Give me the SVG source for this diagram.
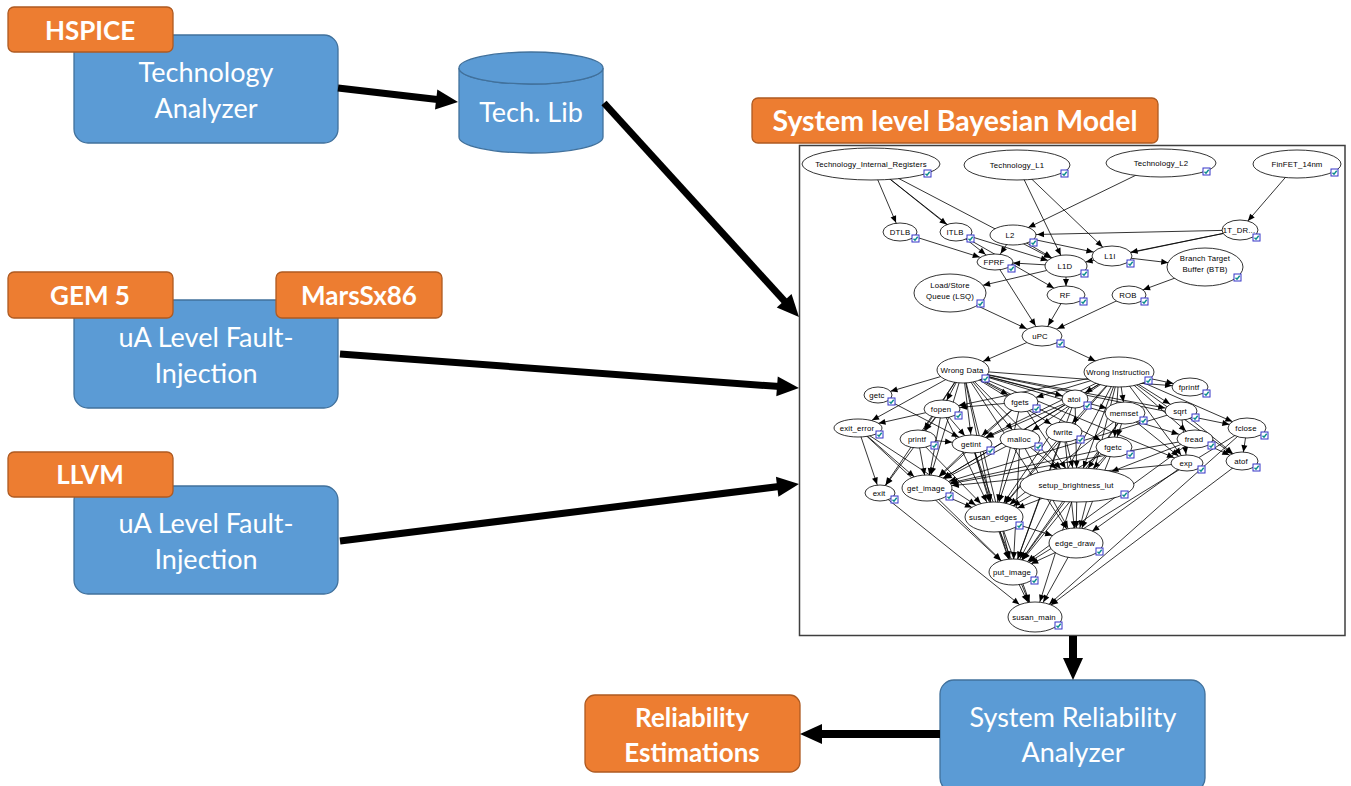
<svg xmlns="http://www.w3.org/2000/svg" xmlns:xlink="http://www.w3.org/1999/xlink" width="1351" height="786" viewBox="0 0 1351 786">
<style>
.blue{fill:#5B9BD5;stroke:#41719C;stroke-width:1.3}
.org{fill:#ED7D31;stroke:#AE5A21;stroke-width:1.3}
.t{font-family:Lato,"Open Sans",sans-serif;font-size:27px;fill:#fff;text-anchor:middle}
.tb{font-family:Lato,"Open Sans",sans-serif;font-weight:700;font-size:26px;fill:#fff;text-anchor:middle}
.big{stroke:#000;stroke-width:7;fill:none}
.e line{stroke:#000;stroke-width:0.8;fill:none}
.n ellipse{fill:#fff;stroke:#000;stroke-width:0.8}
.n text{font-family:"Liberation Sans",Arial,sans-serif;font-size:7.8px;text-anchor:middle;fill:#000;letter-spacing:0.15px}
</style>
<defs>
<marker id="bigA" markerUnits="userSpaceOnUse" markerWidth="24" markerHeight="22" refX="10" refY="10" orient="auto" overflow="visible"><path d="M0,0 L22,10 L0,20 z" fill="#000"/></marker>
<marker id="a9" markerUnits="userSpaceOnUse" markerWidth="8" markerHeight="6" refX="16" refY="3" orient="auto" overflow="visible"><path d="M0,0 L7,3 L0,6 z"/></marker>
<marker id="a10" markerUnits="userSpaceOnUse" markerWidth="8" markerHeight="6" refX="17" refY="3" orient="auto" overflow="visible"><path d="M0,0 L7,3 L0,6 z"/></marker>
<marker id="a11" markerUnits="userSpaceOnUse" markerWidth="8" markerHeight="6" refX="18" refY="3" orient="auto" overflow="visible"><path d="M0,0 L7,3 L0,6 z"/></marker>
<marker id="a12" markerUnits="userSpaceOnUse" markerWidth="8" markerHeight="6" refX="19" refY="3" orient="auto" overflow="visible"><path d="M0,0 L7,3 L0,6 z"/></marker>
<marker id="a13" markerUnits="userSpaceOnUse" markerWidth="8" markerHeight="6" refX="20" refY="3" orient="auto" overflow="visible"><path d="M0,0 L7,3 L0,6 z"/></marker>
<marker id="a14" markerUnits="userSpaceOnUse" markerWidth="8" markerHeight="6" refX="21" refY="3" orient="auto" overflow="visible"><path d="M0,0 L7,3 L0,6 z"/></marker>
<marker id="a15" markerUnits="userSpaceOnUse" markerWidth="8" markerHeight="6" refX="22" refY="3" orient="auto" overflow="visible"><path d="M0,0 L7,3 L0,6 z"/></marker>
<marker id="a16" markerUnits="userSpaceOnUse" markerWidth="8" markerHeight="6" refX="23" refY="3" orient="auto" overflow="visible"><path d="M0,0 L7,3 L0,6 z"/></marker>
<marker id="a17" markerUnits="userSpaceOnUse" markerWidth="8" markerHeight="6" refX="24" refY="3" orient="auto" overflow="visible"><path d="M0,0 L7,3 L0,6 z"/></marker>
<marker id="a18" markerUnits="userSpaceOnUse" markerWidth="8" markerHeight="6" refX="25" refY="3" orient="auto" overflow="visible"><path d="M0,0 L7,3 L0,6 z"/></marker>
<marker id="a19" markerUnits="userSpaceOnUse" markerWidth="8" markerHeight="6" refX="26" refY="3" orient="auto" overflow="visible"><path d="M0,0 L7,3 L0,6 z"/></marker>
<marker id="a20" markerUnits="userSpaceOnUse" markerWidth="8" markerHeight="6" refX="27" refY="3" orient="auto" overflow="visible"><path d="M0,0 L7,3 L0,6 z"/></marker>
<marker id="a21" markerUnits="userSpaceOnUse" markerWidth="8" markerHeight="6" refX="28" refY="3" orient="auto" overflow="visible"><path d="M0,0 L7,3 L0,6 z"/></marker>
<marker id="a22" markerUnits="userSpaceOnUse" markerWidth="8" markerHeight="6" refX="29" refY="3" orient="auto" overflow="visible"><path d="M0,0 L7,3 L0,6 z"/></marker>
<marker id="a23" markerUnits="userSpaceOnUse" markerWidth="8" markerHeight="6" refX="30" refY="3" orient="auto" overflow="visible"><path d="M0,0 L7,3 L0,6 z"/></marker>
<marker id="a24" markerUnits="userSpaceOnUse" markerWidth="8" markerHeight="6" refX="31" refY="3" orient="auto" overflow="visible"><path d="M0,0 L7,3 L0,6 z"/></marker>
<marker id="a25" markerUnits="userSpaceOnUse" markerWidth="8" markerHeight="6" refX="32" refY="3" orient="auto" overflow="visible"><path d="M0,0 L7,3 L0,6 z"/></marker>
<marker id="a26" markerUnits="userSpaceOnUse" markerWidth="8" markerHeight="6" refX="33" refY="3" orient="auto" overflow="visible"><path d="M0,0 L7,3 L0,6 z"/></marker>
<marker id="a34" markerUnits="userSpaceOnUse" markerWidth="8" markerHeight="6" refX="41" refY="3" orient="auto" overflow="visible"><path d="M0,0 L7,3 L0,6 z"/></marker>
<marker id="a37" markerUnits="userSpaceOnUse" markerWidth="8" markerHeight="6" refX="44" refY="3" orient="auto" overflow="visible"><path d="M0,0 L7,3 L0,6 z"/></marker>
<g id="cb"><rect x="0" y="0" width="7" height="7" fill="#fff" stroke="#3535c8" stroke-width="1"/><polyline points="1.5,3.8 3,5.3 5.7,1.8" fill="none" stroke="#0a8c8c" stroke-width="1.4"/></g>
</defs>

<g id="technology-analyzer">
<rect class="blue" x="74" y="35" width="264" height="108" rx="14"/>
<text class="t" x="206" y="82">Technology</text>
<text class="t" x="206" y="118">Analyzer</text>
</g>
<g id="hspice"><rect class="org" x="8" y="7" width="165" height="45" rx="6"/><text class="tb" x="90" y="39.5">HSPICE</text></g>

<g id="fault-injection-1">
<rect class="blue" x="74" y="300" width="264" height="108" rx="14"/>
<text class="t" x="206" y="347">uA Level Fault-</text>
<text class="t" x="206" y="383">Injection</text>
</g>
<g id="gem5"><rect class="org" x="8" y="272" width="165" height="46" rx="6"/><text class="tb" x="90" y="304.5">GEM 5</text></g>
<g id="marssx86"><rect class="org" x="276" y="272" width="166" height="46" rx="6"/><text class="tb" x="359" y="304.5">MarsSx86</text></g>

<g id="fault-injection-2">
<rect class="blue" x="74" y="486" width="264" height="108" rx="14"/>
<text class="t" x="206" y="533">uA Level Fault-</text>
<text class="t" x="206" y="569">Injection</text>
</g>
<g id="llvm"><rect class="org" x="8" y="452" width="165" height="45" rx="6"/><text class="tb" x="90" y="484">LLVM</text></g>

<g id="tech-lib">
<path class="blue" d="M459,68 V137 A72,16 0 0 0 603,137 V68 A72,16 0 0 1 459,68 Z"/>
<ellipse class="blue" cx="531" cy="68" rx="72" ry="16"/>
<text class="t" x="531" y="122">Tech. Lib</text>
</g>

<g id="bayesian-title"><rect class="org" x="752" y="98" width="406" height="45" rx="6"/><text class="tb" x="955" y="130.5" style="font-size:28px" textLength="365" lengthAdjust="spacingAndGlyphs">System level Bayesian Model</text></g>

<g id="bayesian-model">
<rect x="799.5" y="145.5" width="545.5" height="490" fill="#fff" stroke="#3f3f3f" stroke-width="1.5"/>
</g>

<g id="system-reliability-analyzer">
<rect class="blue" x="940" y="680" width="265" height="112" rx="14"/>
<text class="t" x="1073" y="727">System Reliability</text>
<text class="t" x="1073" y="762">Analyzer</text>
</g>
<g id="reliability-estimations"><rect class="org" x="585" y="695" width="215" height="77" rx="10"/>
<text class="tb" x="692" y="726.5">Reliability</text><text class="tb" x="692" y="761.5">Estimations</text></g>

<g id="connectors">
<line class="big" x1="338" y1="88" x2="446.1" y2="100.6" marker-end="url(#bigA)"/>
<line class="big" x1="604" y1="103" x2="790.9" y2="308.1" marker-end="url(#bigA)"/>
<line class="big" x1="340" y1="354" x2="787" y2="387.1" marker-end="url(#bigA)"/>
<line class="big" x1="340" y1="541" x2="787.1" y2="485.5" marker-end="url(#bigA)"/>
<line class="big" x1="1073" y1="636" x2="1073" y2="668" marker-end="url(#bigA)" style="stroke-width:8"/>
<line class="big" x1="940" y1="734" x2="812" y2="734" marker-end="url(#bigA)" style="stroke-width:8"/>
</g>

<g id="bn-edges" class="e">
<line x1="871" y1="164" x2="900" y2="232" marker-end="url(#a10)"/>
<line x1="871" y1="164" x2="956" y2="232" marker-end="url(#a12)"/>
<line x1="871" y1="164" x2="995" y2="262" marker-end="url(#a12)"/>
<line x1="871" y1="164" x2="1066" y2="266" marker-end="url(#a17)"/>
<line x1="1017" y1="165" x2="1112" y2="256" marker-end="url(#a13)"/>
<line x1="1017" y1="165" x2="1066" y2="266" marker-end="url(#a12)"/>
<line x1="1161" y1="163" x2="1013" y2="235" marker-end="url(#a17)"/>
<line x1="1297" y1="164" x2="1240" y2="230" marker-end="url(#a12)"/>
<line x1="1240" y1="230" x2="1013" y2="235" marker-end="url(#a24)"/>
<line x1="1240" y1="230" x2="1112" y2="256" marker-end="url(#a19)"/>
<line x1="1240" y1="230" x2="1066" y2="266" marker-end="url(#a20)"/>
<line x1="900" y1="232" x2="995" y2="262" marker-end="url(#a16)"/>
<line x1="956" y1="232" x2="1066" y2="266" marker-end="url(#a19)"/>
<line x1="956" y1="232" x2="1066" y2="295" marker-end="url(#a14)"/>
<line x1="1013" y1="235" x2="1112" y2="256" marker-end="url(#a19)"/>
<line x1="1013" y1="235" x2="1066" y2="266" marker-end="url(#a17)"/>
<line x1="1013" y1="235" x2="995" y2="262" marker-end="url(#a10)"/>
<line x1="1112" y1="256" x2="1205" y2="267" marker-end="url(#a37)"/>
<line x1="1066" y1="266" x2="995" y2="262" marker-end="url(#a18)"/>
<line x1="1066" y1="266" x2="950" y2="293" marker-end="url(#a34)"/>
<line x1="1066" y1="266" x2="1066" y2="295" marker-end="url(#a9)"/>
<line x1="995" y1="262" x2="1042" y2="336" marker-end="url(#a12)"/>
<line x1="950" y1="293" x2="1042" y2="336" marker-end="url(#a17)"/>
<line x1="1066" y1="295" x2="1042" y2="336" marker-end="url(#a12)"/>
<line x1="1129" y1="295" x2="1042" y2="336" marker-end="url(#a17)"/>
<line x1="1205" y1="267" x2="1129" y2="295" marker-end="url(#a15)"/>
<line x1="1042" y1="336" x2="963" y2="370" marker-end="url(#a22)"/>
<line x1="1042" y1="336" x2="1119" y2="372" marker-end="url(#a26)"/>
<line x1="963" y1="370" x2="878" y2="395" marker-end="url(#a13)"/>
<line x1="963" y1="370" x2="858" y2="428" marker-end="url(#a16)"/>
<line x1="963" y1="370" x2="942" y2="409" marker-end="url(#a10)"/>
<line x1="963" y1="370" x2="918" y2="439" marker-end="url(#a11)"/>
<line x1="963" y1="370" x2="972" y2="444" marker-end="url(#a10)"/>
<line x1="963" y1="370" x2="1021" y2="402" marker-end="url(#a15)"/>
<line x1="963" y1="370" x2="1020" y2="439" marker-end="url(#a12)"/>
<line x1="963" y1="370" x2="1075" y2="399" marker-end="url(#a13)"/>
<line x1="963" y1="370" x2="1064" y2="432" marker-end="url(#a15)"/>
<line x1="963" y1="370" x2="1125" y2="413" marker-end="url(#a19)"/>
<line x1="963" y1="370" x2="1114" y2="447" marker-end="url(#a15)"/>
<line x1="963" y1="370" x2="1181" y2="411" marker-end="url(#a16)"/>
<line x1="963" y1="370" x2="1195" y2="439" marker-end="url(#a17)"/>
<line x1="963" y1="370" x2="1247" y2="428" marker-end="url(#a18)"/>
<line x1="963" y1="370" x2="1190" y2="387" marker-end="url(#a18)"/>
<line x1="963" y1="370" x2="927" y2="488" marker-end="url(#a14)"/>
<line x1="963" y1="370" x2="994" y2="517" marker-end="url(#a16)"/>
<line x1="963" y1="370" x2="1077" y2="485" marker-end="url(#a23)"/>
<line x1="963" y1="370" x2="1013" y2="572" marker-end="url(#a14)"/>
<line x1="963" y1="370" x2="1076" y2="543" marker-end="url(#a17)"/>
<line x1="963" y1="370" x2="880" y2="493" marker-end="url(#a10)"/>
<line x1="963" y1="370" x2="1187" y2="463" marker-end="url(#a14)"/>
<line x1="1119" y1="372" x2="1190" y2="387" marker-end="url(#a17)"/>
<line x1="1119" y1="372" x2="1181" y2="411" marker-end="url(#a13)"/>
<line x1="1119" y1="372" x2="1247" y2="428" marker-end="url(#a16)"/>
<line x1="1119" y1="372" x2="1195" y2="439" marker-end="url(#a12)"/>
<line x1="1119" y1="372" x2="1125" y2="413" marker-end="url(#a11)"/>
<line x1="1119" y1="372" x2="1075" y2="399" marker-end="url(#a12)"/>
<line x1="1119" y1="372" x2="1114" y2="447" marker-end="url(#a10)"/>
<line x1="1119" y1="372" x2="1021" y2="402" marker-end="url(#a16)"/>
<line x1="1119" y1="372" x2="1064" y2="432" marker-end="url(#a12)"/>
<line x1="1119" y1="372" x2="1020" y2="439" marker-end="url(#a15)"/>
<line x1="1119" y1="372" x2="972" y2="444" marker-end="url(#a15)"/>
<line x1="1119" y1="372" x2="942" y2="409" marker-end="url(#a17)"/>
<line x1="1119" y1="372" x2="1187" y2="463" marker-end="url(#a10)"/>
<line x1="1119" y1="372" x2="1242" y2="461" marker-end="url(#a12)"/>
<line x1="1119" y1="372" x2="1077" y2="485" marker-end="url(#a18)"/>
<line x1="1119" y1="372" x2="994" y2="517" marker-end="url(#a18)"/>
<line x1="1119" y1="372" x2="1076" y2="543" marker-end="url(#a16)"/>
<line x1="1119" y1="372" x2="1013" y2="572" marker-end="url(#a15)"/>
<line x1="1119" y1="372" x2="927" y2="488" marker-end="url(#a19)"/>
<line x1="878" y1="395" x2="972" y2="444" marker-end="url(#a15)"/>
<line x1="942" y1="409" x2="858" y2="428" marker-end="url(#a21)"/>
<line x1="942" y1="409" x2="918" y2="439" marker-end="url(#a11)"/>
<line x1="942" y1="409" x2="972" y2="444" marker-end="url(#a11)"/>
<line x1="942" y1="409" x2="927" y2="488" marker-end="url(#a13)"/>
<line x1="942" y1="409" x2="994" y2="517" marker-end="url(#a17)"/>
<line x1="942" y1="409" x2="880" y2="493" marker-end="url(#a10)"/>
<line x1="858" y1="428" x2="880" y2="493" marker-end="url(#a9)"/>
<line x1="858" y1="428" x2="927" y2="488" marker-end="url(#a17)"/>
<line x1="858" y1="428" x2="1013" y2="572" marker-end="url(#a17)"/>
<line x1="858" y1="428" x2="994" y2="517" marker-end="url(#a22)"/>
<line x1="918" y1="439" x2="927" y2="488" marker-end="url(#a13)"/>
<line x1="918" y1="439" x2="972" y2="444" marker-end="url(#a20)"/>
<line x1="918" y1="439" x2="994" y2="517" marker-end="url(#a19)"/>
<line x1="972" y1="444" x2="927" y2="488" marker-end="url(#a17)"/>
<line x1="972" y1="444" x2="994" y2="517" marker-end="url(#a16)"/>
<line x1="972" y1="444" x2="1013" y2="572" marker-end="url(#a14)"/>
<line x1="972" y1="444" x2="1035" y2="617" marker-end="url(#a16)"/>
<line x1="1020" y1="439" x2="927" y2="488" marker-end="url(#a20)"/>
<line x1="1020" y1="439" x2="994" y2="517" marker-end="url(#a16)"/>
<line x1="1020" y1="439" x2="1077" y2="485" marker-end="url(#a26)"/>
<line x1="1020" y1="439" x2="1013" y2="572" marker-end="url(#a13)"/>
<line x1="1020" y1="439" x2="1076" y2="543" marker-end="url(#a17)"/>
<line x1="1021" y1="402" x2="972" y2="444" marker-end="url(#a13)"/>
<line x1="1021" y1="402" x2="942" y2="409" marker-end="url(#a18)"/>
<line x1="1021" y1="402" x2="927" y2="488" marker-end="url(#a17)"/>
<line x1="1021" y1="402" x2="994" y2="517" marker-end="url(#a16)"/>
<line x1="1021" y1="402" x2="1077" y2="485" marker-end="url(#a20)"/>
<line x1="1075" y1="399" x2="972" y2="444" marker-end="url(#a16)"/>
<line x1="1075" y1="399" x2="994" y2="517" marker-end="url(#a17)"/>
<line x1="1075" y1="399" x2="927" y2="488" marker-end="url(#a19)"/>
<line x1="1075" y1="399" x2="1077" y2="485" marker-end="url(#a17)"/>
<line x1="1075" y1="399" x2="1013" y2="572" marker-end="url(#a14)"/>
<line x1="1064" y1="432" x2="994" y2="517" marker-end="url(#a18)"/>
<line x1="1064" y1="432" x2="1077" y2="485" marker-end="url(#a18)"/>
<line x1="1064" y1="432" x2="1076" y2="543" marker-end="url(#a15)"/>
<line x1="1064" y1="432" x2="1013" y2="572" marker-end="url(#a14)"/>
<line x1="1125" y1="413" x2="1114" y2="447" marker-end="url(#a11)"/>
<line x1="1125" y1="413" x2="1077" y2="485" marker-end="url(#a20)"/>
<line x1="1125" y1="413" x2="1187" y2="463" marker-end="url(#a11)"/>
<line x1="1125" y1="413" x2="994" y2="517" marker-end="url(#a20)"/>
<line x1="1125" y1="413" x2="1013" y2="572" marker-end="url(#a15)"/>
<line x1="1114" y1="447" x2="927" y2="488" marker-end="url(#a24)"/>
<line x1="1114" y1="447" x2="994" y2="517" marker-end="url(#a22)"/>
<line x1="1114" y1="447" x2="1077" y2="485" marker-end="url(#a23)"/>
<line x1="1114" y1="447" x2="1076" y2="543" marker-end="url(#a16)"/>
<line x1="1114" y1="447" x2="1013" y2="572" marker-end="url(#a16)"/>
<line x1="1181" y1="411" x2="1187" y2="463" marker-end="url(#a9)"/>
<line x1="1181" y1="411" x2="1242" y2="461" marker-end="url(#a12)"/>
<line x1="1181" y1="411" x2="927" y2="488" marker-end="url(#a23)"/>
<line x1="1195" y1="439" x2="1242" y2="461" marker-end="url(#a14)"/>
<line x1="1195" y1="439" x2="1077" y2="485" marker-end="url(#a37)"/>
<line x1="1195" y1="439" x2="927" y2="488" marker-end="url(#a24)"/>
<line x1="1195" y1="439" x2="1013" y2="572" marker-end="url(#a18)"/>
<line x1="1247" y1="428" x2="1242" y2="461" marker-end="url(#a9)"/>
<line x1="1247" y1="428" x2="1035" y2="617" marker-end="url(#a19)"/>
<line x1="1247" y1="428" x2="1013" y2="572" marker-end="url(#a19)"/>
<line x1="1242" y1="461" x2="1035" y2="617" marker-end="url(#a20)"/>
<line x1="1187" y1="463" x2="927" y2="488" marker-end="url(#a25)"/>
<line x1="1187" y1="463" x2="1076" y2="543" marker-end="url(#a20)"/>
<line x1="880" y1="493" x2="1035" y2="617" marker-end="url(#a20)"/>
<line x1="927" y1="488" x2="994" y2="517" marker-end="url(#a24)"/>
<line x1="927" y1="488" x2="1013" y2="572" marker-end="url(#a17)"/>
<line x1="1077" y1="485" x2="994" y2="517" marker-end="url(#a25)"/>
<line x1="1077" y1="485" x2="1076" y2="543" marker-end="url(#a15)"/>
<line x1="1077" y1="485" x2="1013" y2="572" marker-end="url(#a15)"/>
<line x1="1077" y1="485" x2="1035" y2="617" marker-end="url(#a16)"/>
<line x1="994" y1="517" x2="1076" y2="543" marker-end="url(#a25)"/>
<line x1="994" y1="517" x2="1013" y2="572" marker-end="url(#a14)"/>
<line x1="994" y1="517" x2="1035" y2="617" marker-end="url(#a16)"/>
<line x1="1076" y1="543" x2="1013" y2="572" marker-end="url(#a20)"/>
<line x1="1076" y1="543" x2="1035" y2="617" marker-end="url(#a17)"/>
<line x1="1013" y1="572" x2="1035" y2="617" marker-end="url(#a17)"/>
</g>

<g class="n">
<g id="n-tir"><ellipse cx="871" cy="164" rx="69" ry="16"/><text x="871" y="166.7">Technology_Internal_Registers</text><use xlink:href="#cb" x="924" y="170"/></g>
<g id="n-tl1"><ellipse cx="1017" cy="165" rx="53" ry="15"/><text x="1017" y="167.7">Technology_L1</text><use xlink:href="#cb" x="1061" y="170"/></g>
<g id="n-tl2"><ellipse cx="1161" cy="163" rx="55" ry="14"/><text x="1161" y="165.7">Technology_L2</text><use xlink:href="#cb" x="1203" y="168"/></g>
<g id="n-finfet"><ellipse cx="1297" cy="164" rx="44" ry="14"/><text x="1297" y="166.7">FinFET_14nm</text><use xlink:href="#cb" x="1331" y="169"/></g>
<g id="n-dtlb"><ellipse cx="900" cy="232" rx="17" ry="9"/><text x="900" y="234.7">DTLB</text><use xlink:href="#cb" x="912" y="235"/></g>
<g id="n-itlb"><ellipse cx="956" cy="232" rx="16" ry="9"/><text x="955" y="234.7">ITLB</text><use xlink:href="#cb" x="967" y="235"/></g>
<g id="n-l2"><ellipse cx="1013" cy="235" rx="23" ry="10"/><text x="1010" y="237.7">L2</text><use xlink:href="#cb" x="1030" y="239"/></g>
<g id="n-1tdr"><ellipse cx="1240" cy="230" rx="18" ry="10"/><text x="1239" y="232.7">1T_DR...</text><use xlink:href="#cb" x="1253" y="234"/></g>
<g id="n-l1i"><ellipse cx="1112" cy="256" rx="20" ry="10"/><text x="1110" y="258.7">L1I</text><use xlink:href="#cb" x="1127" y="260"/></g>
<g id="n-btb"><ellipse cx="1205" cy="267" rx="38" ry="19"/><text x="1205" y="261">Branch Target</text><text x="1205" y="271.5">Buffer (BTB)</text><use xlink:href="#cb" x="1234" y="274"/></g>
<g id="n-l1d"><ellipse cx="1066" cy="266" rx="21" ry="11"/><text x="1065" y="268.7">L1D</text><use xlink:href="#cb" x="1081" y="270"/></g>
<g id="n-fprf"><ellipse cx="995" cy="262" rx="18" ry="8"/><text x="994" y="264.7">FPRF</text><use xlink:href="#cb" x="1008" y="265"/></g>
<g id="n-lsq"><ellipse cx="950" cy="293" rx="36" ry="19"/><text x="950" y="288">Load/Store</text><text x="950" y="298.5">Queue (LSQ)</text><use xlink:href="#cb" x="977" y="300"/></g>
<g id="n-rf"><ellipse cx="1066" cy="295" rx="19" ry="9"/><text x="1065" y="297.7">RF</text><use xlink:href="#cb" x="1080" y="298"/></g>
<g id="n-rob"><ellipse cx="1129" cy="295" rx="17" ry="9"/><text x="1128" y="297.7">ROB</text><use xlink:href="#cb" x="1141" y="298"/></g>
<g id="n-upc"><ellipse cx="1042" cy="336" rx="20" ry="10"/><text x="1040" y="338.7">uPC</text><use xlink:href="#cb" x="1057" y="340"/></g>
<g id="n-wrong-data"><ellipse cx="963" cy="370" rx="26" ry="13"/><text x="962" y="372.7">Wrong Data</text><use xlink:href="#cb" x="982" y="375"/></g>
<g id="n-wrong-instruction"><ellipse cx="1119" cy="372" rx="35" ry="15"/><text x="1118" y="374.7">Wrong Instruction</text><use xlink:href="#cb" x="1145" y="377"/></g>
<g id="n-fprintf"><ellipse cx="1190" cy="387" rx="18" ry="9"/><text x="1189" y="389.7">fprintf</text><use xlink:href="#cb" x="1203" y="390"/></g>
<g id="n-getc"><ellipse cx="878" cy="395" rx="14" ry="8"/><text x="877" y="397.7">getc</text><use xlink:href="#cb" x="888" y="398"/></g>
<g id="n-fopen"><ellipse cx="942" cy="409" rx="18" ry="9"/><text x="941" y="411.7">fopen</text><use xlink:href="#cb" x="955" y="412"/></g>
<g id="n-fgets"><ellipse cx="1021" cy="402" rx="17" ry="10"/><text x="1020" y="404.7">fgets</text><use xlink:href="#cb" x="1033" y="405"/></g>
<g id="n-atoi"><ellipse cx="1075" cy="399" rx="13" ry="9"/><text x="1074" y="401.7">atoi</text><use xlink:href="#cb" x="1084" y="402"/></g>
<g id="n-memset"><ellipse cx="1125" cy="413" rx="20" ry="11"/><text x="1124" y="415.7">memset</text><use xlink:href="#cb" x="1140" y="417"/></g>
<g id="n-sqrt"><ellipse cx="1181" cy="411" rx="16" ry="9"/><text x="1180" y="413.7">sqrt</text><use xlink:href="#cb" x="1192" y="414"/></g>
<g id="n-fclose"><ellipse cx="1247" cy="428" rx="19" ry="10"/><text x="1246" y="430.7">fclose</text><use xlink:href="#cb" x="1261" y="432"/></g>
<g id="n-exit-error"><ellipse cx="858" cy="428" rx="24" ry="9"/><text x="857" y="430.7">exit_error</text><use xlink:href="#cb" x="876" y="431"/></g>
<g id="n-printf"><ellipse cx="918" cy="439" rx="18" ry="9"/><text x="917" y="441.7">printf</text><use xlink:href="#cb" x="931" y="442"/></g>
<g id="n-getint"><ellipse cx="972" cy="444" rx="20" ry="9"/><text x="971" y="446.7">getint</text><use xlink:href="#cb" x="987" y="447"/></g>
<g id="n-malloc"><ellipse cx="1020" cy="439" rx="20" ry="10"/><text x="1019" y="441.7">malloc</text><use xlink:href="#cb" x="1035" y="443"/></g>
<g id="n-fwrite"><ellipse cx="1064" cy="432" rx="18" ry="10"/><text x="1063" y="434.7">fwrite</text><use xlink:href="#cb" x="1077" y="436"/></g>
<g id="n-fread"><ellipse cx="1195" cy="439" rx="18" ry="9"/><text x="1194" y="441.7">fread</text><use xlink:href="#cb" x="1208" y="442"/></g>
<g id="n-fgetc"><ellipse cx="1114" cy="447" rx="18" ry="10"/><text x="1113" y="449.7">fgetc</text><use xlink:href="#cb" x="1127" y="451"/></g>
<g id="n-exp"><ellipse cx="1187" cy="463" rx="16" ry="8"/><text x="1186" y="465.7">exp</text><use xlink:href="#cb" x="1198" y="466"/></g>
<g id="n-atof"><ellipse cx="1242" cy="461" rx="16" ry="9"/><text x="1241" y="463.7">atof</text><use xlink:href="#cb" x="1253" y="464"/></g>
<g id="n-exit"><ellipse cx="880" cy="493" rx="15" ry="8"/><text x="879" y="495.7">exit</text><use xlink:href="#cb" x="891" y="496"/></g>
<g id="n-get-image"><ellipse cx="927" cy="488" rx="25" ry="13"/><text x="926" y="490.7">get_image</text><use xlink:href="#cb" x="946" y="493"/></g>
<g id="n-setup-brightness-lut"><ellipse cx="1077" cy="485" rx="57" ry="17"/><text x="1076" y="487.7">setup_brightness_lut</text><use xlink:href="#cb" x="1121" y="491"/></g>
<g id="n-susan-edges"><ellipse cx="994" cy="517" rx="29" ry="15"/><text x="993" y="519.7">susan_edges</text><use xlink:href="#cb" x="1016" y="522"/></g>
<g id="n-edge-draw"><ellipse cx="1076" cy="543" rx="27" ry="15"/><text x="1075" y="545.7">edge_draw</text><use xlink:href="#cb" x="1096" y="548"/></g>
<g id="n-put-image"><ellipse cx="1013" cy="572" rx="24" ry="13"/><text x="1012" y="574.7">put_image</text><use xlink:href="#cb" x="1031" y="577"/></g>
<g id="n-susan-main"><ellipse cx="1035" cy="617" rx="27" ry="15"/><text x="1034" y="619.7">susan_main</text><use xlink:href="#cb" x="1055" y="622"/></g>
</g>
</svg>
